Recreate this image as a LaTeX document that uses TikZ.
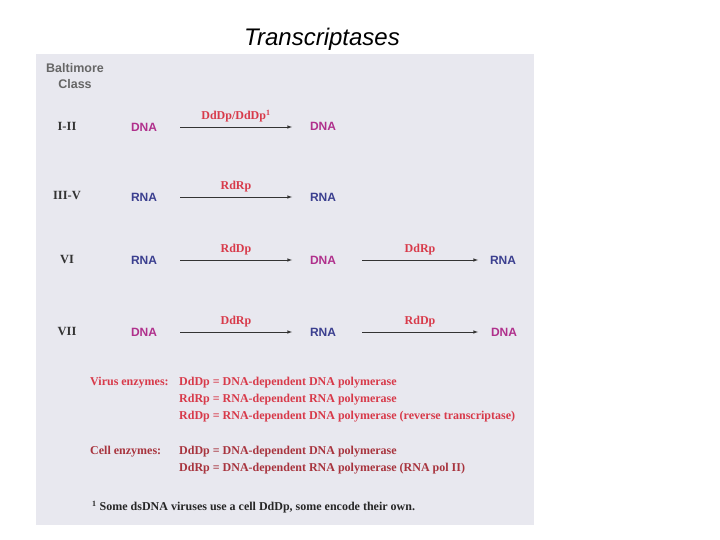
\documentclass[tikz,border=0pt]{standalone}
\usepackage{fontspec}
\setmainfont{Liberation Serif}
\setsansfont{Liberation Sans}
\begin{document}
\begin{tikzpicture}[x=1pt,y=-1pt,
  dna/.style={font=\sffamily\bfseries\fontsize{12}{14}\selectfont,text=dnac},
  rna/.style={font=\sffamily\bfseries\fontsize{12}{14}\selectfont,text=rnac},
  enz/.style={font=\bfseries\fontsize{12}{14}\selectfont,text=enzc},
  cls/.style={font=\bfseries\fontsize{12.5}{14}\selectfont,text=black!80},
  leg/.style={font=\bfseries\fontsize{12}{14}\selectfont,anchor=west,inner sep=0},
  arr/.style={-latex,black!80,line width=0.6pt}]
\definecolor{dnac}{HTML}{B0308C}
\definecolor{rnac}{HTML}{3B3F8F}
\definecolor{enzc}{HTML}{D83A4A}
\definecolor{cellc}{HTML}{A8343E}
\definecolor{panel}{HTML}{E8E8EF}
\useasboundingbox[fill=white] (0,0) rectangle (720,540);
\fill[panel] (36,54) rectangle (534,525);
\node (title) at (322,39) {\sffamily\itshape\fontsize{24}{27}\selectfont Transcriptases};
\node[align=center,font=\sffamily\bfseries\fontsize{12.5}{15.5}\selectfont,text=black!60] (bc) at (75,76) {Baltimore\\Class};
% rows
\node[cls] (c1) at (67,126) {I-II};
\node[cls] (c2) at (67,196) {III-V};
\node[cls] (c3) at (67,260) {VI};
\node[cls] (c4) at (67,332) {VII};
\node[dna] (a1) at (144,127) {DNA};
\node[dna] (b1) at (323,126) {DNA};
\draw[arr] (180,127) -- node[enz,above,yshift=1pt]{DdDp/DdDp\textsuperscript{1}} (292,127);
\node[rna] (a2) at (144,197) {RNA};
\node[rna] (b2) at (323,197) {RNA};
\draw[arr] (180,197) -- node[enz,above,yshift=1pt]{RdRp} (292,197);
\node[rna] (a3) at (144,260) {RNA};
\node[dna] (b3) at (323,260) {DNA};
\node[rna] (d3) at (503,260) {RNA};
\draw[arr] (180,260) -- node[enz,above,yshift=1pt]{RdDp} (292,260);
\draw[arr] (362,260) -- node[enz,above,yshift=1pt]{DdRp} (478,260);
\node[dna] (a4) at (144,332) {DNA};
\node[rna] (b4) at (323,332) {RNA};
\node[dna] (d4) at (504,332) {DNA};
\draw[arr] (180,332) -- node[enz,above,yshift=1pt]{DdRp} (292,332);
\draw[arr] (362,332) -- node[enz,above,yshift=1pt]{RdDp} (478,332);
% legend
\node[leg,text=enzc] (v0) at (90,383) {Virus enzymes:};
\node[leg,text=enzc] (v1) at (179,383) {DdDp = DNA-dependent DNA polymerase};
\node[leg,text=enzc] (v2) at (179,400) {RdRp = RNA-dependent RNA polymerase};
\node[leg,text=enzc] (v3) at (179,417) {RdDp = RNA-dependent DNA polymerase (reverse transcriptase)};
\node[leg,text=cellc] (e0) at (90,452) {Cell enzymes:};
\node[leg,text=cellc] (e1) at (179,452) {DdDp = DNA-dependent DNA polymerase};
\node[leg,text=cellc] (e2) at (179,469) {DdRp = DNA-dependent RNA polymerase (RNA pol II)};
\node[leg,text=black!85] (fn) at (92,507) {\textsuperscript{1} Some dsDNA viruses use a cell DdDp, some encode their own.};
\end{tikzpicture}
\end{document}
